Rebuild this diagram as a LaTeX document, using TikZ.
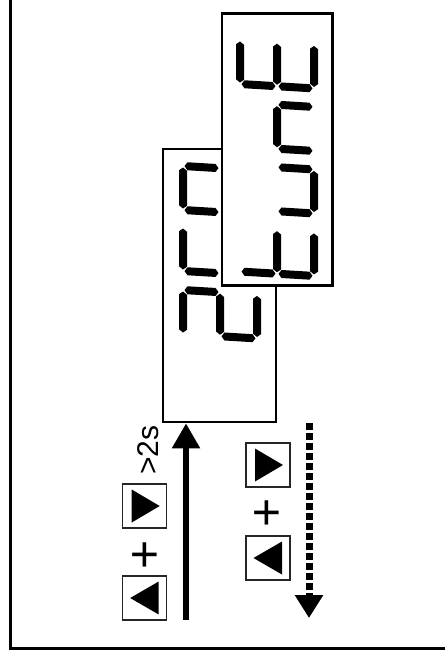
\documentclass[tikz,border=0pt]{standalone}
\usepackage{fontspec}
\setmainfont{Liberation Sans}
\usetikzlibrary{arrows.meta}
\newcommand{\vsg}[3]{\fill (#1,#2) -- (#1+4,#2+3) -- (#1+4,#3-3) -- (#1,#3) -- (#1-4,#3-3) -- (#1-4,#2+3) -- cycle;}
\newcommand{\hsg}[3]{\fill (#1,#3) -- (#1+3,#3-4) -- (#2-3,#3-4) -- (#2,#3) -- (#2-3,#3+4) -- (#1+3,#3+4) -- cycle;}
\newcommand{\sgA}{\vsg{0}{1.5}{42.5}}
\newcommand{\sgG}{\vsg{37}{1.5}{42.5}}
\newcommand{\sgD}{\vsg{74}{1.5}{42.5}}
\newcommand{\sgB}{\hsg{1.5}{35.5}{0}}
\newcommand{\sgC}{\hsg{38.5}{72.5}{0}}
\newcommand{\sgF}{\hsg{1.5}{35.5}{44}}
\newcommand{\sgE}{\hsg{38.5}{72.5}{44}}
\newcommand{\sevdig}[3]{\begin{scope}[shift={(#1,#2)},yslant=-0.06]\foreach \s in {#3}{\csname sg\s\endcsname}\end{scope}}
\newcommand{\rtri}[1]{\fill ([shift={(-13,-16.5)}]#1.center) -- ([shift={(15,0)}]#1.center) -- ([shift={(-13,16.5)}]#1.center) -- cycle;}
\newcommand{\ltri}[1]{\fill ([shift={(-14.5,0)}]#1.center) -- ([shift={(14,-16.5)}]#1.center) -- ([shift={(14,16.5)}]#1.center) -- cycle;}
\tikzset{
  dispbox/.style={draw=black, line width=2.8pt, fill=white, inner sep=0pt},
  btn/.style={draw=black!85, line width=1.3pt, minimum size=44pt, inner sep=0pt, fill=white},
  plus/.style={rotate=90, font=\fontsize{50}{50}\selectfont, inner sep=0pt},
  arr/.style={line width=5.5pt}
}
\begin{document}
\begin{tikzpicture}[x=1pt,y=-1pt]
\useasboundingbox (0,0) rectangle (445,662);
\fill[white] (0,0) rectangle (445,662);
% outer frame
\draw[line width=3pt] (10.5,0) -- (10.5,648.5) -- (445,648.5);
% back display
\node[dispbox, minimum width=113pt, minimum height=273pt] (back) at (219.5,285.5) {};
\sevdig{183}{166}{A,B,F}
\sevdig{183}{227}{A,F}
\sevdig{183}{290}{A,B,G,E,D}
% front display
\node[dispbox, minimum width=110.5pt, minimum height=272pt] (front) at (277.25,149.6) {};
\sevdig{240}{40}{A,G,D,F,E}
\sevdig{240}{102.5}{G,C,E}
\sevdig{240}{165}{C,D,E}
\sevdig{240}{227.5}{G,D,F,E}
% solid arrow
\coordinate (s0) at (186,620);
\draw[arr, -{Triangle[width=27pt,length=25pt]}] (s0) -- (s0 |- back.south);
% dashed arrow
\coordinate (d0) at (309,423);
\coordinate (d1) at (309,618);
\draw[line width=7pt, dash pattern=on 6.5pt off 3.5pt, -{Triangle[width=27pt,length=23pt]}] (d0) -- (d1);
% left buttons
\node[btn] (L1) at (144.7,506) {};
\node[btn] (L2) at (144.7,598) {};
\rtri{L1}
\ltri{L2}
\node[plus] (pl) at (147,555) {+};
\node[rotate=90, anchor=base, font=\fontsize{30}{32}\selectfont] (t2s) at (158,450) {>2s};
% right buttons
\node[btn] (R1) at (268,465) {};
\node[btn] (R2) at (268,558) {};
\rtri{R1}
\ltri{R2}
\node[plus] (pr) at (269,513) {+};
\end{tikzpicture}
\end{document}
